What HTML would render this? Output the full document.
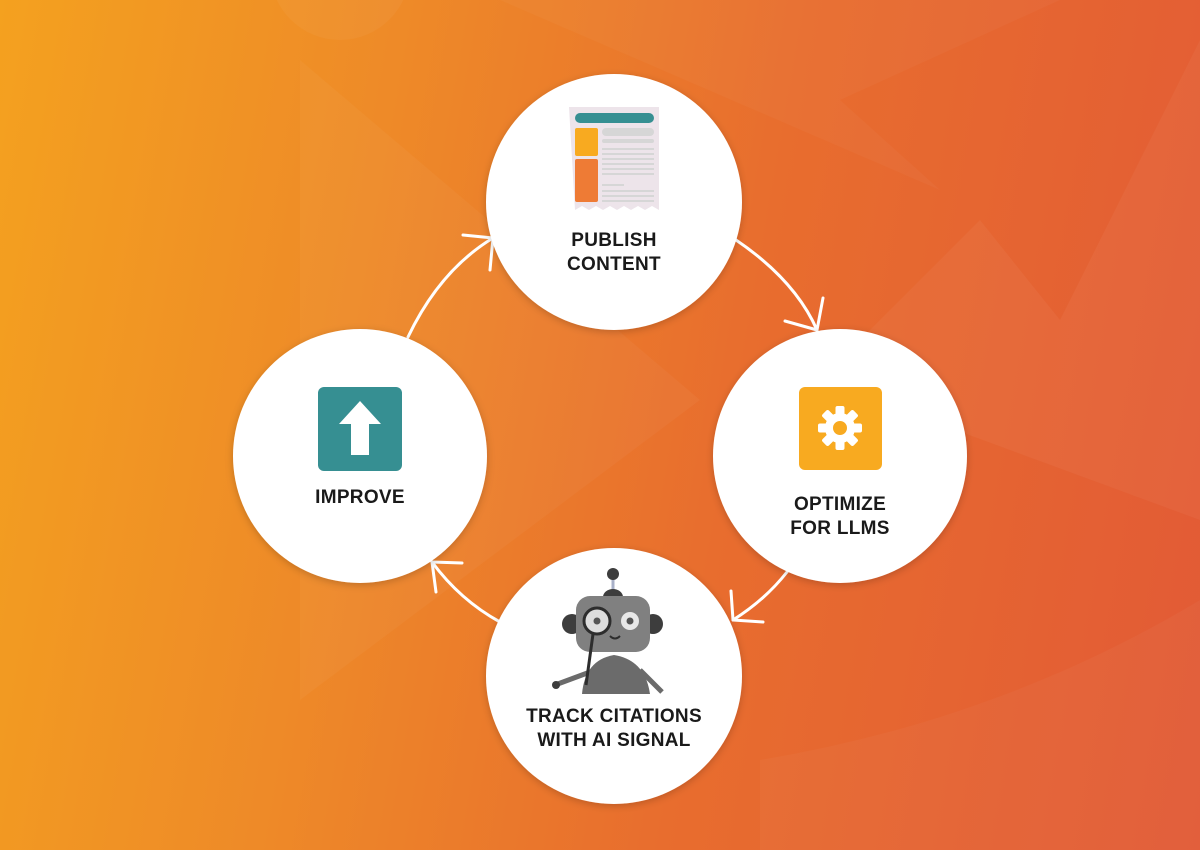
<!DOCTYPE html>
<html><head><style>
body{margin:0;width:1200px;height:850px;overflow:hidden;font-family:"Liberation Sans","DejaVu Sans",sans-serif;}
.bg{position:absolute;inset:0;background:linear-gradient(100deg,#f4a11f 0%,#ee8a28 30%,#e86d2e 60%,#e25a36 100%);}
.lbl{font-weight:bold;font-size:19px;fill:#1a1a1a;text-anchor:middle;letter-spacing:0.3px;}
</style></head><body>
<div class="bg"></div>
<svg width="1200" height="850" style="position:absolute;left:0;top:0">
<defs>
<filter id="sh" x="-20%" y="-20%" width="140%" height="140%"><feDropShadow dx="0" dy="2" stdDeviation="4" flood-color="#000" flood-opacity="0.2"/></filter>
</defs>
<path d="M300,60 L700,400 L300,700 Z" fill="#fff" opacity="0.035"/>
<path d="M500,0 L940,190 L840,100 L1060,0 Z" fill="#fff" opacity="0.03"/>
<path d="M1200,40 L1060,320 L980,220 L820,380 L1200,520 Z" fill="#fff" opacity="0.04"/>
<path d="M760,760 Q1000,720 1200,600 L1200,850 L760,850 Z" fill="#fff" opacity="0.03"/>
<circle cx="340" cy="-30" r="70" fill="#fff" opacity="0.04"/>
<g stroke="#fff" stroke-width="3" fill="none" stroke-linecap="round">
<path d="M736,240 Q795,280 817,330"/><path d="M817,330 L823,298 M817,330 L785,321"/>
<path d="M408,337 Q440,270 493,238"/><path d="M493,238 L463,235 M493,238 L490,270"/>
<path d="M787,572 Q765,600 733,620"/><path d="M733,620 L763,622 M733,620 L731,591"/>
<path d="M500,622 Q460,600 432,562"/><path d="M432,562 L436,592 M432,562 L462,563"/>
</g>
<g fill="#fff" filter="url(#sh)">
<circle cx="614" cy="202" r="128"/>
<circle cx="840" cy="456" r="127"/>
<circle cx="614" cy="676" r="128"/>
<circle cx="360" cy="456" r="127"/>
</g>
<path d="M569,107 H659 V210 l-7,-4 -7,4 -7,-4 -7,4 -7,-4 -7,4 -7,-4 -7,4 -7,-4 -7,4 -7,-4 -7,4 Z" fill="#ede4ea"/>
<rect x="575" y="113" width="79" height="10" rx="5" fill="#368f92"/>
<rect x="575" y="128" width="23" height="28" rx="2" fill="#f8aa20"/>
<rect x="575" y="159" width="23" height="43" rx="2" fill="#ee7b35"/>
<rect x="602" y="128" width="52" height="8" rx="4" fill="#d6d6d6"/>
<rect x="602" y="139" width="52" height="4" rx="2" fill="#d6d6d6"/>
<g fill="#d6d6d6"><rect x="602" y="148" width="52" height="2"/><rect x="602" y="153" width="52" height="2"/><rect x="602" y="158" width="52" height="2"/><rect x="602" y="163" width="52" height="2"/><rect x="602" y="168" width="52" height="2"/><rect x="602" y="173" width="52" height="2"/><rect x="602" y="184" width="22" height="2"/><rect x="602" y="190" width="52" height="2"/><rect x="602" y="195" width="52" height="2"/><rect x="602" y="200" width="52" height="2"/></g>
<text class="lbl" x="614" y="246">PUBLISH</text>
<text class="lbl" x="614" y="270">CONTENT</text>
<rect x="799" y="387" width="83" height="83" rx="6" fill="#f8aa20"/>
<g transform="translate(840,428)" fill="#fff">
<g id="t"><rect x="-4.5" y="-22" width="9" height="10" rx="2"/></g>
<use href="#t" transform="rotate(45)"/><use href="#t" transform="rotate(90)"/><use href="#t" transform="rotate(135)"/><use href="#t" transform="rotate(180)"/><use href="#t" transform="rotate(225)"/><use href="#t" transform="rotate(270)"/><use href="#t" transform="rotate(315)"/>
<circle r="11" fill="none" stroke="#fff" stroke-width="8"/>
</g>
<text class="lbl" x="840" y="510">OPTIMIZE</text>
<text class="lbl" x="840" y="534">FOR LLMS</text>
<rect x="318" y="387" width="84" height="84" rx="6" fill="#368f92"/>
<path d="M360,401 L381,424 H369 V455 H351 V424 H339 Z" fill="#fff"/>
<text class="lbl" x="360" y="503">IMPROVE</text>
<line x1="613" y1="574" x2="613" y2="592" stroke="#a8b0c8" stroke-width="3"/>
<circle cx="613" cy="574" r="6" fill="#3d3d3d"/>
<path d="M603,597 a10,8 0 0 1 20,0 Z" fill="#3d3d3d"/>
<path d="M582,694 Q585,660 614,655 Q645,660 650,694 Z" fill="#6b6b6b"/>
<line x1="555" y1="685" x2="590" y2="672" stroke="#6b6b6b" stroke-width="5" stroke-linecap="round"/>
<circle cx="556" cy="685" r="4" fill="#3d3d3d"/>
<line x1="640" y1="670" x2="662" y2="692" stroke="#6b6b6b" stroke-width="5"/>
<circle cx="572" cy="624" r="10" fill="#3d3d3d"/>
<circle cx="653" cy="624" r="10" fill="#3d3d3d"/>
<rect x="576" y="596" width="74" height="56" rx="14" fill="#808080"/>
<circle cx="597" cy="621" r="13" fill="#ddd" stroke="#2d2d2d" stroke-width="3"/>
<circle cx="597" cy="621" r="3.5" fill="#555"/>
<line x1="593" y1="634" x2="586" y2="685" stroke="#2d2d2d" stroke-width="3"/>
<circle cx="630" cy="621" r="9" fill="#e8e8e8"/>
<circle cx="630" cy="621" r="3.5" fill="#555"/>
<path d="M610,636 q5,5 10,0" stroke="#2d2d2d" stroke-width="2" fill="none"/>
<text class="lbl" x="614" y="722">TRACK CITATIONS</text>
<text class="lbl" x="614" y="746">WITH AI SIGNAL</text>
</svg>
</body></html>
